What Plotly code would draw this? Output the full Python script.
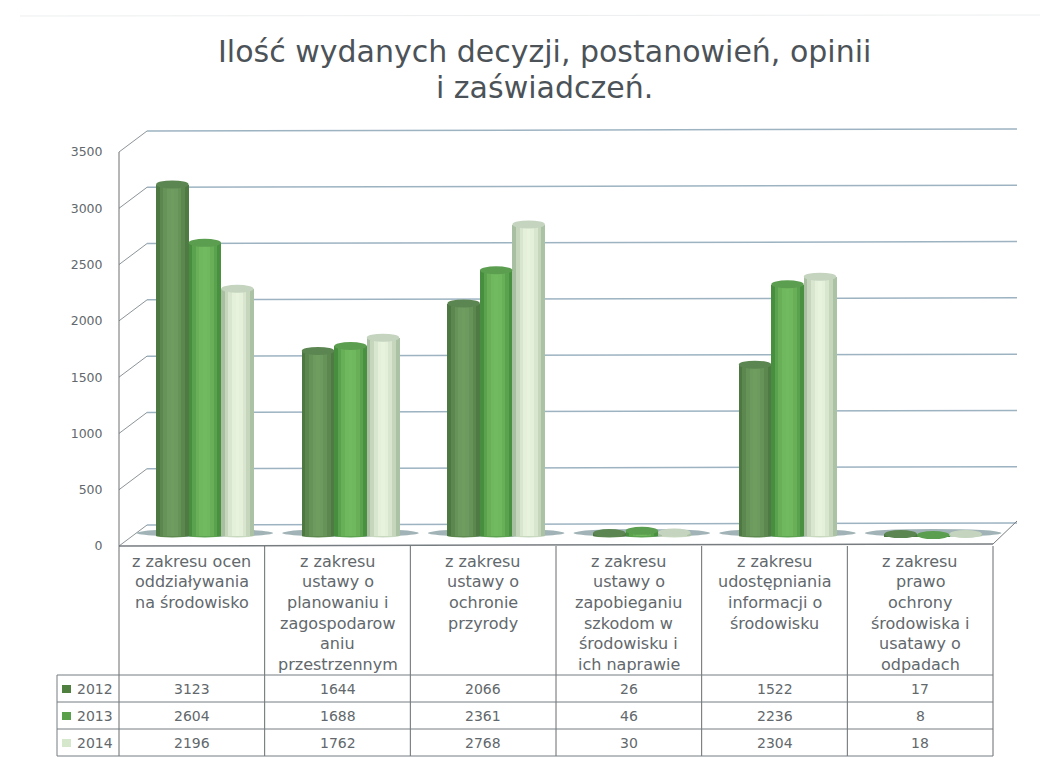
import plotly.graph_objects as go

W, H = 1045, 757
FONT = "DejaVu Sans"
TEXT = "#62686c"

TITLE_LINES = ["Ilość wydanych decyzji, postanowień, opinii", "i zaświadczeń."]
CATEGORY_LINES = [
    ["z zakresu ocen", "oddziaływania", "na środowisko"],
    ["z zakresu", "ustawy o", "planowaniu i", "zagospodarow", "aniu", "przestrzennym"],
    ["z zakresu", "ustawy o", "ochronie", "przyrody"],
    ["z zakresu", "ustawy o", "zapobieganiu", "szkodom w", "środowisku i", "ich naprawie"],
    ["z zakresu", "udostępniania", "informacji o", "środowisku"],
    ["z zakresu", "prawo", "ochrony", "środowiska i", "usatawy o", "odpadach"],
]
YEARS = ["2012", "2013", "2014"]
VALUES_2012 = [3123, 1644, 2066, 26, 1522, 17]
VALUES_2013 = [2604, 1688, 2361, 46, 2236, 8]
VALUES_2014 = [2196, 1762, 2768, 30, 2304, 18]
SERIES = [VALUES_2012, VALUES_2013, VALUES_2014]
Y_TICKS = [0, 500, 1000, 1500, 2000, 2500, 3000, 3500]

EDGE = ["#4d7842", "#488e3f", "#a9bfa2"]
CENTRE = ["#6f9c5f", "#72ba60", "#e8f3de"]
TOP = ["#5c8651", "#5c9e50", "#c4d4be"]
KEY = ["#4f8040", "#5aa04a", "#d5e8cc"]

PX = 394 / 3500            # pixels per unit
X0, X1 = 119, 993          # front of chart / table columns
COL = (X1 - X0) / 6
BAR_X0 = X0 + 13           # plot is drawn at mid depth
ROWS = [675, 702, 729, 756]
TABLE_LEFT = 57


def px(x):
    return x / W


def py(y):
    return 1 - y / H


def mix(a, b, t):
    ca = [int(a[i:i + 2], 16) for i in (1, 3, 5)]
    cb = [int(b[i:i + 2], 16) for i in (1, 3, 5)]
    return "rgb(%d,%d,%d)" % tuple(round(p + (q - p) * t) for p, q in zip(ca, cb))


def line(x0, y0, x1, y1, color="#6a6f72", width=1):
    return dict(type="line", xref="paper", yref="paper", x0=px(x0), y0=py(y0), x1=px(x1), y1=py(y1),
                line=dict(color=color, width=width), layer="below")


fig = go.Figure()
BAR_W = 32.5 / COL
OFFS = [-BAR_W * 1.5, -BAR_W * 0.5, BAR_W * 0.5]
STRIPS = [0.0, 0.45, 0.75, 0.95, 1.0, 0.95, 0.75, 0.45, 0.05]
positions = list(range(6))
for s, vals in enumerate(SERIES):
    n = len(STRIPS)
    sw = BAR_W / n
    for k, t in enumerate(STRIPS):
        fig.add_trace(go.Bar(
            x=positions, y=vals, name=YEARS[s], width=sw + 0.002,
            offset=OFFS[s] + k * sw,
            marker=dict(color=mix(EDGE[s], CENTRE[s], t), line=dict(width=0)),
            showlegend=False, hoverinfo="skip",
        ))
# invisible trace that carries the front (labelled) value axis
fig.add_trace(go.Scatter(x=[0], y=[0], yaxis="y2", mode="markers", marker=dict(opacity=0),
                         showlegend=False, hoverinfo="skip"))

shapes = []
# Back wall, side wall, floor
TILT = 2
for v in Y_TICKS:
    yf = 546 - v * PX
    yb = 525 - v * PX
    shapes.append(line(X0, yf, 147, yb, "#8c9498"))
    shapes.append(line(147, yb, 1017, yb - TILT, "#9db3c2", 1.5))
shapes.append(line(X0, 546, X1, 544, "#777c80", 1.5))
shapes.append(line(X1, 544, 1017, 521, "#777c80", 1))
shapes.append(line(X0, 152, X0, 546, "#6a6f72"))

# Table grid
for i in range(7):
    x = X0 + i * COL
    shapes.append(line(x, 546, x, ROWS[-1], "#666b6e"))
shapes.append(line(TABLE_LEFT, ROWS[0], TABLE_LEFT, ROWS[-1], "#777c80"))
for r in ROWS:
    shapes.append(line(TABLE_LEFT, r, X1, r, "#777c80"))
# scan edge
shapes.append(line(20, 16, 1040, 15, "#eceeef"))

# Floor shadows, base and top ellipses, from the data
RY_TOP = 4 / PX
RY_BASE = 1.5 / PX
for c in range(6):
    shapes.append(dict(type="circle", xref="x", yref="y", x0=c - BAR_W * 2.1, x1=c + BAR_W * 2.1,
                       y0=-9, y1=63, fillcolor="#8aa0a4", line=dict(width=0), layer="below", opacity=0.8))
    for s, vals in enumerate(SERIES):
        xa, xb = c + OFFS[s], c + OFFS[s] + BAR_W
        shapes.append(dict(type="circle", xref="x", yref="y", x0=xa, x1=xb, y0=-RY_BASE, y1=RY_BASE,
                           fillcolor=mix(EDGE[s], CENTRE[s], 0.5), line=dict(width=0), layer="below"))
        shapes.append(dict(type="circle", xref="x", yref="y", x0=xa, x1=xb,
                           y0=vals[c] - RY_TOP, y1=vals[c] + RY_TOP,
                           fillcolor=TOP[s], line=dict(width=0), layer="above"))

ann = []


def text(x, y, s, size, color=TEXT):
    ann.append(dict(xref="paper", yref="paper", x=px(x), y=py(y), text=s, showarrow=False,
                    xanchor="center", yanchor="middle", font=dict(family=FONT, size=size, color=color)))


TITLE_Y = [52, 88]
for y, s in zip(TITLE_Y, TITLE_LINES):
    text(544, y, s, 30, "#4c5358")

for c, lines in enumerate(CATEGORY_LINES):
    cx = X0 + (c + 0.5) * COL
    for j, s in enumerate(lines):
        text(cx, 561 + 20.7 * j, s, 16)

for s, vals in enumerate(SERIES):
    y = (ROWS[s] + ROWS[s + 1]) / 2 + 0.5
    text(95, y, YEARS[s], 14)
    shapes.append(dict(type="rect", xref="paper", yref="paper", x0=px(62), x1=px(71), y0=py(y - 4), y1=py(y + 4),
                       fillcolor=KEY[s], line=dict(width=0)))
    for c, v in enumerate(vals):
        text(X0 + (c + 0.5) * COL, y, str(v), 14)

ymin, ymax = -100, 3600
fig.update_layout(
    width=W, height=H, margin=dict(l=0, r=0, t=0, b=0, autoexpand=False),
    paper_bgcolor="white", plot_bgcolor="rgba(0,0,0,0)",
    barmode="overlay", bargap=0, showlegend=False,
    xaxis=dict(domain=[px(BAR_X0), px(BAR_X0 + 6 * COL)], range=[-0.5, 5.5], visible=False, fixedrange=True),
    yaxis=dict(domain=[py(536 - ymin * PX), py(536 - ymax * PX)], range=[ymin, ymax], visible=False, fixedrange=True),
    yaxis2=dict(domain=[py(546), py(152)], range=[0, 3500], anchor="free", position=px(X0),
                side="left", tickvals=Y_TICKS, ticktext=[str(v) for v in Y_TICKS], ticks="outside", ticklen=14,
                tickcolor="rgba(0,0,0,0)", showgrid=False, zeroline=False, showline=False,
                tickfont=dict(family=FONT, size=12.5, color=TEXT), fixedrange=True),
    shapes=shapes, annotations=ann,
)
fig.write_html("out.html", config=dict(displayModeBar=False),
               post_script="document.body.style.margin='0';document.body.style.overflow='hidden';")
